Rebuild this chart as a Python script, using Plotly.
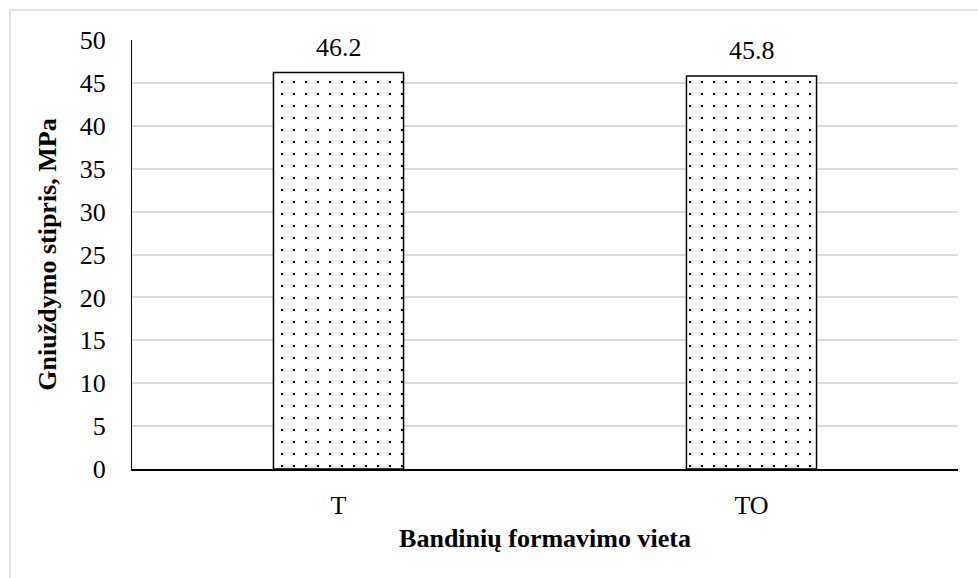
import plotly.graph_objects as go

categories = ["T", "TO"]
values = [46.2, 45.8]
value_labels = ["46.2", "45.8"]
y_ticks = [0, 5, 10, 15, 20, 25, 30, 35, 40, 45, 50]

FONT = "Liberation Serif"
FS = 26

fig = go.Figure(
    go.Bar(
        x=categories,
        y=values,
        width=0.315,
        marker=dict(
            color="white",
            line=dict(color="black", width=1.5),
            pattern=dict(shape=".", fgcolor="black", bgcolor="white",
                         fgopacity=1, size=12, solidity=0.035,
                         fillmode="replace"),
        ),
    )
)

for c, v, t in zip(categories, values, value_labels):
    fig.add_annotation(x=c, y=v, text=t, showarrow=False,
                       yanchor="bottom", yshift=9,
                       font=dict(family=FONT, size=FS, color="#000"))

fig.update_layout(
    width=978,
    height=578,
    margin=dict(l=132, r=20, t=40, b=109),
    paper_bgcolor="white",
    plot_bgcolor="white",
    showlegend=False,
    font=dict(family=FONT, color="#000", size=FS),
    xaxis=dict(
        showline=True, linecolor="black", linewidth=2,
        ticks="", ticklabelstandoff=12,
        tickfont=dict(family=FONT, size=FS, color="#000"),
        title=dict(text="<b>Bandinių formavimo vieta</b>",
                   font=dict(family=FONT, size=FS, color="#000"), standoff=10),
    ),
    yaxis=dict(
        range=[0, 50], tickvals=y_ticks,
        showline=True, linecolor="black", linewidth=1,
        showgrid=True, gridcolor="#d9d9d9", gridwidth=1.5,
        zeroline=False,
        ticks="", ticklabelstandoff=20,
        tickfont=dict(family=FONT, size=FS, color="#000"),
        title=dict(text="<b>Gniuždymo stipris, MPa</b>",
                   font=dict(family=FONT, size=FS, color="#000"), standoff=15),
    ),
    shapes=[
        dict(type="rect", xref="paper", yref="paper",
             x0=(10 - 132) / 826, x1=1.1, y0=-0.4, y1=(469 - 10) / 429,
             line=dict(color="#d9d9d9", width=1.5), fillcolor="rgba(0,0,0,0)",
             layer="below"),
    ],
)

fig.write_html("out.html")
